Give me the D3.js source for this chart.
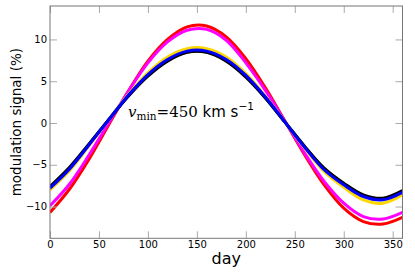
<!DOCTYPE html>
<html>
<head>
<meta charset="utf-8">
<script src="https://cdn.jsdelivr.net/npm/d3@7"></script>
<style>
  html, body { margin: 0; padding: 0; background: #fff; }
  svg { display: block; }
</style>
</head>
<body>
<script>
// days sampled every 20
var days = [0, 20, 40, 60, 80, 100, 120, 140, 160, 180, 200, 220, 240, 260, 280, 300, 320, 340, 360];

// modulation (%) for each curve
var red     = [-10.7, -7.9, -4.3, -0.2, 3.8, 7.4, 10.0, 11.5, 11.6, 10.3, 7.7, 4.2, 0.2, -3.8, -7.4, -10.2, -11.8, -12.1, -11.3];
var magenta = [-9.9, -7.3, -3.8, 0.0, 3.8, 7.2, 9.7, 11.1, 11.2, 9.9, 7.2, 3.9, 0.2, -3.6, -7.0, -9.6, -11.2, -11.5, -10.7];
var yellow  = [-8.0, -5.7, -2.7, 0.4, 3.4, 6.0, 7.9, 8.9, 8.9, 7.9, 5.9, 3.2, 0.1, -3.0, -5.8, -7.7, -9.2, -9.6, -8.6];
var green   = [-7.7, -5.4, -2.5, 0.4, 3.3, 5.7, 7.5, 8.5, 8.5, 7.5, 5.6, 3.0, 0.1, -2.8, -5.5, -7.3, -8.7, -9.1, -8.2];
var black   = [-7.6, -5.3, -2.5, 0.4, 3.2, 5.6, 7.4, 8.45, 8.45, 7.4, 5.5, 3.0, 0.1, -2.8, -5.4, -7.2, -8.6, -9.0, -8.1];
var blue    = [-7.8, -5.5, -2.6, 0.4, 3.3, 5.8, 7.6, 8.6, 8.6, 7.6, 5.7, 3.1, 0.1, -2.9, -5.6, -7.4, -8.8, -9.2, -8.3];

var series = [
  {color: '#ff0000', values: red},
  {color: '#ff00ff', values: magenta},
  {color: '#ffd700', values: yellow},
  {color: '#006400', values: green},
  {color: '#000000', values: black},
  {color: '#0000ff', values: blue}
];

var xTicks = [0, 50, 100, 150, 200, 250, 300, 350];
var yTicks = [-10, -5, 0, 5, 10];

var width = 415, height = 274;
var plotLeft = 50, plotRight = 402.5, plotTop = 6, plotBottom = 238.3;

var svg = d3.select('body').append('svg')
  .attr('width', width)
  .attr('height', height);

var x = d3.scaleLinear().domain([0, 360]).range([plotLeft, plotRight]);
var y = d3.scaleLinear().domain([-13.8, 14]).range([plotBottom, plotTop]);

svg.append('defs').append('clipPath').attr('id', 'clip')
  .append('rect')
  .attr('x', plotLeft).attr('y', plotTop)
  .attr('width', plotRight - plotLeft).attr('height', plotBottom - plotTop);

var line = d3.line()
  .x(function (d, i) { return x(days[i]); })
  .y(function (d) { return y(d); })
  .curve(d3.curveCatmullRom);

var curves = svg.append('g').attr('clip-path', 'url(#clip)');
series.forEach(function (s) {
  curves.append('path')
    .attr('d', line(s.values))
    .attr('fill', 'none')
    .attr('stroke', s.color)
    .attr('stroke-width', 3)
    .attr('stroke-linejoin', 'round');
});

// axes: ticks point inward on all sides
function fmt(d) { return d < 0 ? '\u2212' + Math.abs(d) : String(d); }

function styleAxis(g) {
  g.select('.domain').remove();
  g.selectAll('.tick line').attr('stroke', '#aaa').attr('stroke-width', 1);
  g.selectAll('.tick text')
    .attr('fill', '#000')
    .style('font-family', 'DejaVu Sans')
    .style('font-size', '10px');
}

svg.append('g')
  .attr('transform', 'translate(0,' + plotBottom + ')')
  .call(d3.axisBottom(x).tickValues(xTicks).tickSize(-7).tickPadding(3).tickFormat(fmt))
  .call(styleAxis);

svg.append('g')
  .attr('transform', 'translate(0,' + plotTop + ')')
  .call(d3.axisTop(x).tickValues(xTicks).tickSize(-7).tickFormat(''))
  .call(styleAxis);

svg.append('g')
  .attr('transform', 'translate(' + plotLeft + ',0)')
  .call(d3.axisLeft(y).tickValues(yTicks).tickSize(-7).tickPadding(3).tickFormat(fmt))
  .call(styleAxis);

svg.append('g')
  .attr('transform', 'translate(' + plotRight + ',0)')
  .call(d3.axisRight(y).tickValues(yTicks).tickSize(-7).tickFormat(''))
  .call(styleAxis);

// frame
svg.append('rect')
  .attr('x', plotLeft).attr('y', plotTop)
  .attr('width', plotRight - plotLeft).attr('height', plotBottom - plotTop)
  .attr('fill', 'none')
  .attr('stroke', '#777')
  .attr('stroke-width', 1);

// axis labels
svg.append('text')
  .attr('x', (plotLeft + plotRight) / 2)
  .attr('y', 264)
  .attr('text-anchor', 'middle')
  .style('font-family', 'DejaVu Sans')
  .style('font-size', '16px')
  .text('day');

svg.append('text')
  .attr('transform', 'translate(20.5,' + ((plotTop + plotBottom) / 2) + ') rotate(-90)')
  .attr('text-anchor', 'middle')
  .style('font-family', 'DejaVu Sans')
  .style('font-size', '13.5px')
  .text('modulation signal (%)');

// annotation
var note = svg.append('text')
  .attr('x', 128)
  .attr('y', 116.5)
  .style('font-size', '15px');
note.append('tspan').style('font-family', 'DejaVu Serif').style('font-style', 'italic').text('v');
note.append('tspan').style('font-family', 'DejaVu Serif').style('font-size', '10.5px').attr('dy', 3.5).text('min');
note.append('tspan').style('font-family', 'DejaVu Serif').attr('dy', -3.5).text('=450');
note.append('tspan').style('font-family', 'DejaVu Sans').text(' km s');
note.append('tspan').style('font-family', 'DejaVu Sans').style('font-size', '10.5px').attr('dy', -6.5).text('\u22121');
</script>
</body>
</html>
